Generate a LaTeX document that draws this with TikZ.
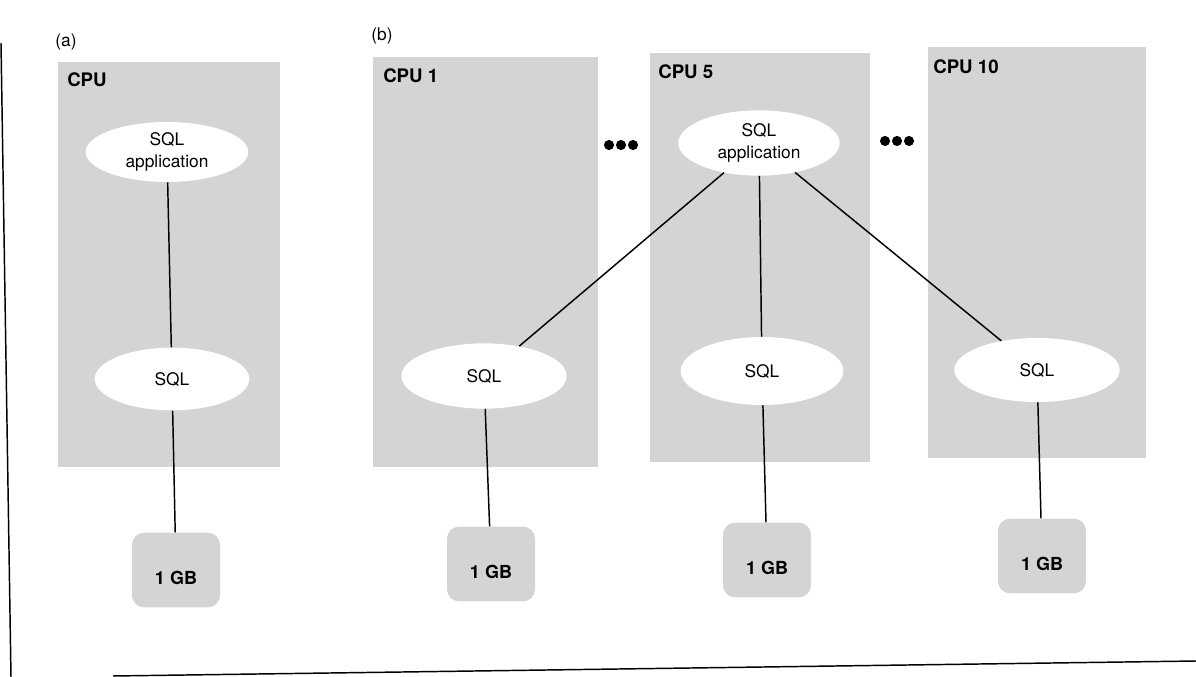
\documentclass[tikz,border=0pt]{standalone}
\usepackage{fontspec}
\setmainfont{TeX Gyre Heros}
\usetikzlibrary{shapes.geometric}
\definecolor{stipple}{gray}{0.83}
\begin{document}
\begin{tikzpicture}[x=0.75pt,y=-0.75pt,
  cpubox/.style={fill=stipple,draw=none},
  proc/.style={ellipse,fill=white,draw=none,inner sep=0pt,align=center,
    font=\fontsize{13}{16.5}\selectfont},
  cputag/.style={anchor=west,inner sep=0pt,font=\fontsize{14}{16}\selectfont\bfseries},
  disk/.style={rectangle,rounded corners=9pt,fill=stipple,draw=none,
    minimum width=66pt,minimum height=56pt,inner sep=0pt},
  disktext/.style={inner sep=0pt,font=\fontsize{13.5}{16}\selectfont\bfseries},
  tag/.style={inner sep=0pt,font=\fontsize{13}{15}\selectfont},
  wire/.style={line width=1.1pt},
  rule/.style={line width=1.1pt}]
\useasboundingbox (0,0) rectangle (1196,677);

% frame rules
\draw[rule] (1,43) -- (11,677);
\draw[rule] (113,676) -- (1196,661);

% panel tags
\node[tag] (taga) at (66,42) {(a)};
\node[tag] (tagb) at (382,36) {(b)};

% processor areas
\fill[cpubox] (58,62) rectangle (280,467);
\fill[cpubox] (373,57) rectangle (598,467);
\fill[cpubox] (650,53) rectangle (870,462);
\fill[cpubox] (928,47) rectangle (1146,458);

\node[cputag] (cpuA) at (67,80) {CPU};
\node[cputag] (cpu1) at (383,76) {CPU 1};
\node[cputag] (cpu5) at (658,72) {CPU 5};
\node[cputag] (cpu10) at (933,67) {CPU 10};

% ellipsis markers between processors
\foreach \dx in {-12,0,12} {
  \fill ({621+\dx},145) circle (3.8pt);
  \fill ({897+\dx},141) circle (3.8pt);
}

% (a) single processor
\node[proc,minimum width=122pt,minimum height=45pt] (appA) at (167,152) {SQL\\application};
\node[proc,minimum width=116pt,minimum height=47pt] (sqlA) at (172,379) {SQL};
\node[disk] (gA) at (176,570) {};
\node[disktext] (gAt) at ([yshift=-6pt]gA.center) {1 GB};

% (b) parallel processors
\node[proc,minimum width=121pt,minimum height=49pt] (appB) at (759,143) {SQL\\application};
\node[proc,minimum width=124pt,minimum height=49pt] (sql1) at (484,376) {SQL};
\node[proc,minimum width=122pt,minimum height=51pt] (sql5) at (762,371) {SQL};
\node[proc,minimum width=124pt,minimum height=48pt] (sql10) at (1037,370) {SQL};

\node[disk] (g1) at (491,564) {};
\node[disktext] (g1t) at ([yshift=-6pt]g1.center) {1 GB};
\node[disk] (g5) at (767,560) {};
\node[disktext] (g5t) at ([yshift=-6pt]g5.center) {1 GB};
\node[disk] (g10) at (1042,556) {};
\node[disktext] (g10t) at ([yshift=-6pt]g10.center) {1 GB};

% connections
\draw[wire] (appA) -- (sqlA);
\draw[wire] (sqlA) -- (gA);
\draw[wire] (appB) -- (sql1);
\draw[wire] (appB) -- (sql5);
\draw[wire] (appB) -- (sql10);
\draw[wire] (sql1) -- (g1);
\draw[wire] (sql5) -- (g5);
\draw[wire] (sql10) -- (g10);
\end{tikzpicture}
\end{document}
